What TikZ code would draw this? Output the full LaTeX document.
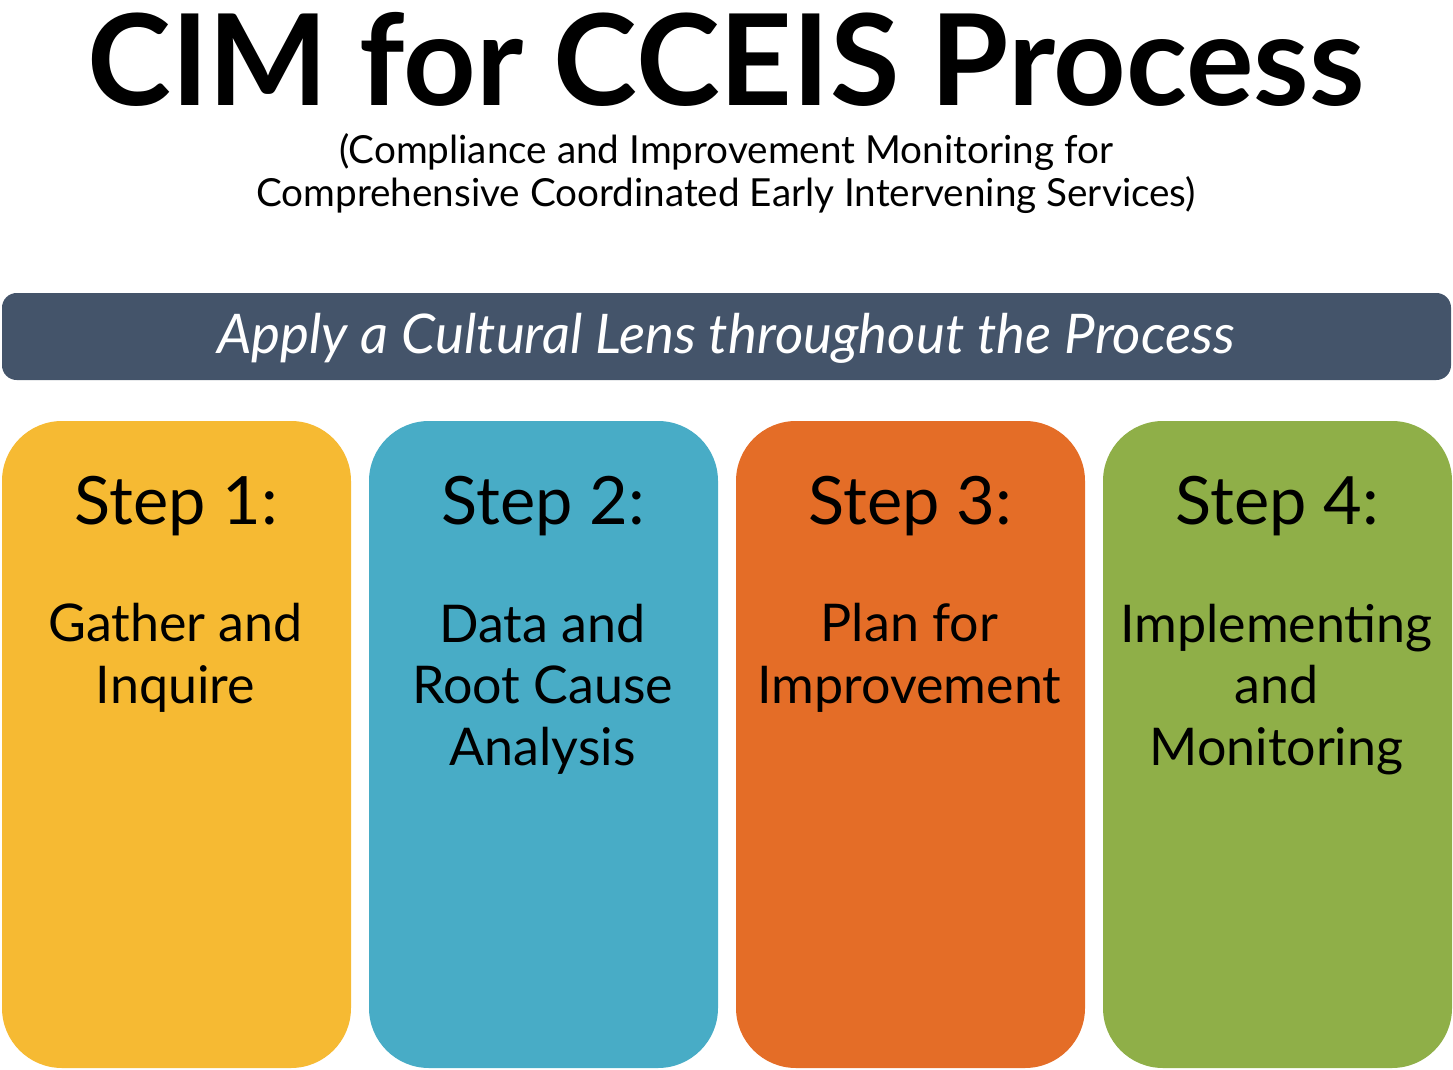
\documentclass[tikz,border=0pt]{standalone}
\usepackage{fontspec}
\setmainfont{Lato}
\definecolor{banner}{HTML}{44546A}
\definecolor{cA}{HTML}{F6BA33}
\definecolor{cB}{HTML}{48ACC6}
\definecolor{cC}{HTML}{E46D27}
\definecolor{cD}{HTML}{8FAF48}
\tikzset{
  stepbox/.style={rounded corners=45pt},
  steptitle/.style={anchor=base,font=\fontsize{50}{56}\selectfont},
  stepbody/.style={anchor=base,align=center,font=\fontsize{39}{46}\selectfont}
}
\begin{document}
\begin{tikzpicture}[x=0.75pt,y=-0.75pt]
\useasboundingbox (0,0) rectangle (1453,1070);
\node[anchor=base,font=\fontsize{95}{100}\selectfont\bfseries] (title) at (726,106) {CIM for CCEIS Process};
\node[anchor=base,align=center,font=\fontsize{29}{32.5}\selectfont] (sub) at (726,207) {(Compliance and Improvement Monitoring for\\Comprehensive Coordinated Early Intervening Services)};
\fill[banner,rounded corners=11pt] (2,293) rectangle (1451,380);
\node[anchor=base,text=white,font=\fontsize{41}{44}\selectfont\itshape] (ban) at (726,353) {Apply a Cultural Lens throughout the Process};
\foreach \x/\c/\n in {2/cA/1,369/cB/2,736/cC/3,1103/cD/4}{
  \fill[\c,stepbox] (\x,421) rectangle ++(349,647);
  \node[steptitle] (s\n) at (\x+174.5,524) {Step \n:};
}
\node[stepbody] (b1) at (175.5,703) {Gather and\\Inquire};
\node[stepbody] (b2) at (542.5,765) {Data and\\Root Cause\\Analysis};
\node[stepbody] (b3) at (909.5,703) {Plan for\\Improvement};
\node[stepbody] (b4) at (1276.5,765) {Implementing\\and\\Monitoring};
\end{tikzpicture}
\end{document}
